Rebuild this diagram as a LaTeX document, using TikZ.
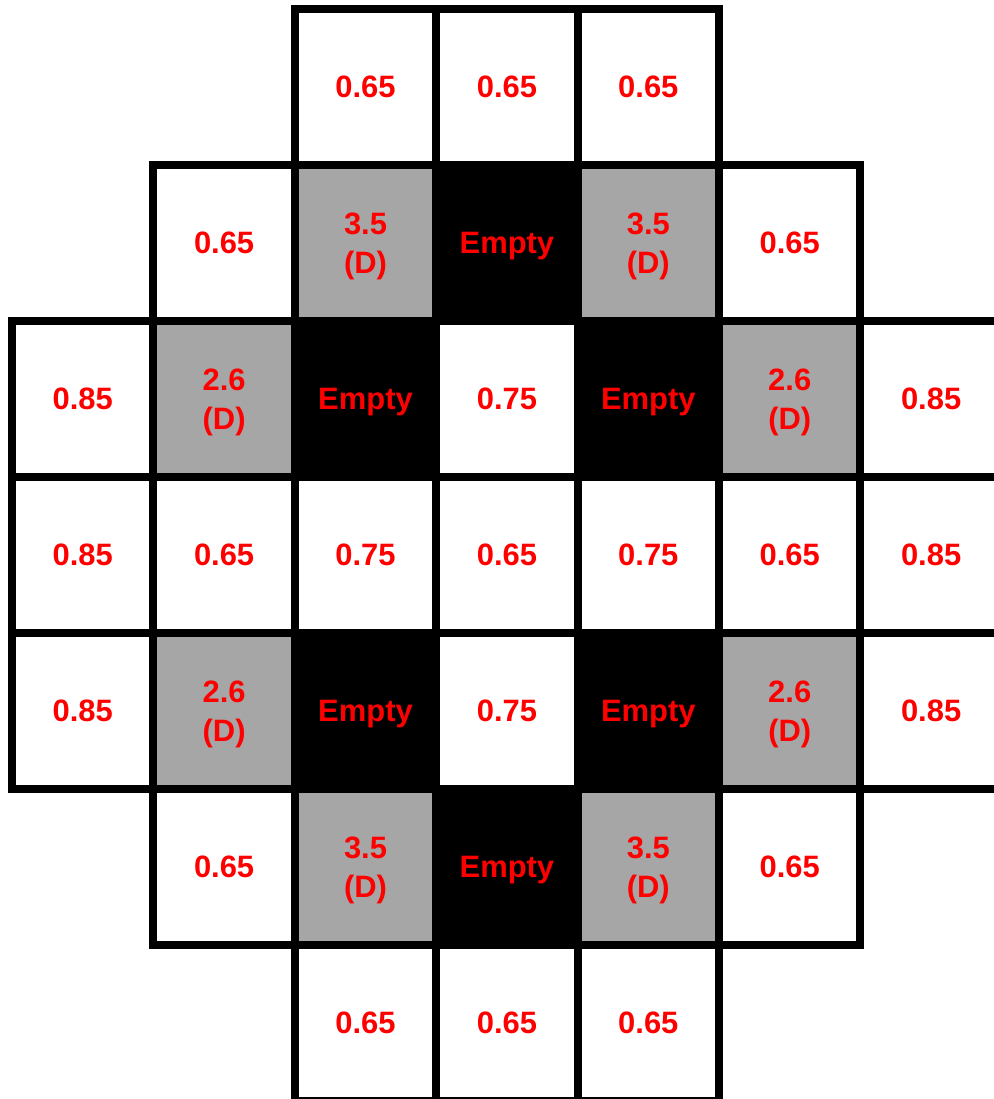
\documentclass[tikz,border=0pt]{standalone}
\usepackage{fontspec}
\setmainfont{Liberation Sans}
\usetikzlibrary{positioning}
\definecolor{dgray}{HTML}{A6A6A6}
\tikzset{
  cell/.style  ={draw, line width=2mm, minimum width=35.35mm, minimum height=39mm, inner sep=0pt, outer sep=0pt, text depth=0pt, align=center, text=red, font=\cellfont},
  wcell/.style ={cell, fill=white},
  dcell/.style ={cell, fill=dgray},
  ecell/.style ={cell, fill=black},
}
\newcommand{\cellfont}{\fontsize{22}{27.6}\selectfont\bfseries}

\begin{document}
\begin{tikzpicture}[x=0.25mm, y=-0.25mm, node distance=0pt and 0pt]
  \useasboundingbox (0,0) rectangle (993,1099);

  % top row
  \node[wcell] (r0c2) at (365.5,87) {0.65};
  \node[wcell, right=of r0c2] (r0c3) {0.65};
  \node[wcell, right=of r0c3] (r0c4) {0.65};

  \node[wcell, below left=of r0c2] (r1c1) {0.65};
  \node[dcell, right=of r1c1] (r1c2) {3.5\\(D)};
  \node[ecell, right=of r1c2] (r1c3) {Empty};
  \node[dcell, right=of r1c3] (r1c4) {3.5\\(D)};
  \node[wcell, right=of r1c4] (r1c5) {0.65};

  \node[wcell, below left=of r1c1] (r2c0) {0.85};
  \node[dcell, right=of r2c0] (r2c1) {2.6\\(D)};
  \node[ecell, right=of r2c1] (r2c2) {Empty};
  \node[wcell, right=of r2c2] (r2c3) {0.75};
  \node[ecell, right=of r2c3] (r2c4) {Empty};
  \node[dcell, right=of r2c4] (r2c5) {2.6\\(D)};
  \node[wcell, right=of r2c5] (r2c6) {0.85};

  % middle row
  \node[wcell, below=of r2c0] (r3c0) {0.85};
  \node[wcell, right=of r3c0] (r3c1) {0.65};
  \node[wcell, right=of r3c1] (r3c2) {0.75};
  \node[wcell, right=of r3c2] (r3c3) {0.65};
  \node[wcell, right=of r3c3] (r3c4) {0.75};
  \node[wcell, right=of r3c4] (r3c5) {0.65};
  \node[wcell, right=of r3c5] (r3c6) {0.85};

  \node[wcell, below=of r3c0] (r4c0) {0.85};
  \node[dcell, right=of r4c0] (r4c1) {2.6\\(D)};
  \node[ecell, right=of r4c1] (r4c2) {Empty};
  \node[wcell, right=of r4c2] (r4c3) {0.75};
  \node[ecell, right=of r4c3] (r4c4) {Empty};
  \node[dcell, right=of r4c4] (r4c5) {2.6\\(D)};
  \node[wcell, right=of r4c5] (r4c6) {0.85};

  \node[wcell, below right=of r4c0] (r5c1) {0.65};
  \node[dcell, right=of r5c1] (r5c2) {3.5\\(D)};
  \node[ecell, right=of r5c2] (r5c3) {Empty};
  \node[dcell, right=of r5c3] (r5c4) {3.5\\(D)};
  \node[wcell, right=of r5c4] (r5c5) {0.65};

  % bottom row
  \node[wcell, below right=of r5c1] (r6c2) {0.65};
  \node[wcell, right=of r6c2] (r6c3) {0.65};
  \node[wcell, right=of r6c3] (r6c4) {0.65};
\end{tikzpicture}
\end{document}
